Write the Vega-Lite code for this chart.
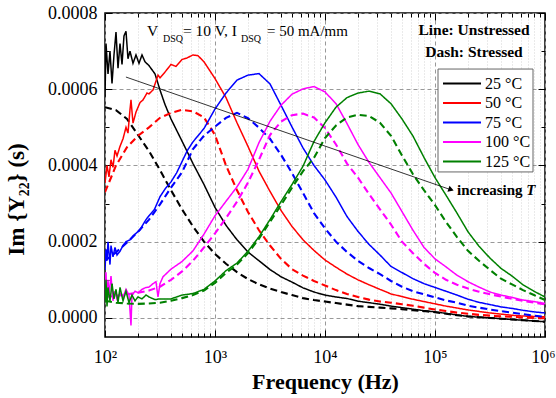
{
  "$schema": "https://vega.github.io/schema/vega-lite/v6.json",
  "width": 440,
  "height": 324,
  "autosize": {"type": "none"},
  "padding": {"left": 105, "top": 13, "right": 11, "bottom": 61},
  "background": "white",
  "config": {
    "view": {"stroke": "black", "strokeWidth": 1.5},
    "font": "Liberation Serif",
    "axis": {"labelFont": "Liberation Serif", "titleFont": "Liberation Serif", "labelColor": "black", "titleColor": "black", "tickColor": "black", "tickWidth": 1, "domain": false},
    "text": {"font": "Liberation Serif", "color": "black"}
  },
  "resolve": {"axis": {"x": "independent", "y": "independent"}},
  "layer": [
    {
      "data": {"values": [
        {"f":100,"v":0.000580,"t":"25 °C","s":"U"},{"f":102.1,"v":0.000720,"t":"25 °C","s":"U"},{"f":106.5,"v":0.000640,"t":"25 °C","s":"U"},{"f":111,"v":0.000700,"t":"25 °C","s":"U"},{"f":115.8,"v":0.000615,"t":"25 °C","s":"U"},{"f":120.7,"v":0.000690,"t":"25 °C","s":"U"},{"f":125.9,"v":0.000750,"t":"25 °C","s":"U"},{"f":131.3,"v":0.000655,"t":"25 °C","s":"U"},{"f":136.9,"v":0.000720,"t":"25 °C","s":"U"},{"f":142.8,"v":0.000665,"t":"25 °C","s":"U"},{"f":148.8,"v":0.000740,"t":"25 °C","s":"U"},{"f":155.2,"v":0.000752,"t":"25 °C","s":"U"},{"f":161.8,"v":0.000680,"t":"25 °C","s":"U"},{"f":168.7,"v":0.000700,"t":"25 °C","s":"U"},{"f":179.7,"v":0.000668,"t":"25 °C","s":"U"},{"f":191.3,"v":0.000690,"t":"25 °C","s":"U"},{"f":203.7,"v":0.000668,"t":"25 °C","s":"U"},{"f":216.9,"v":0.000690,"t":"25 °C","s":"U"},{"f":231,"v":0.000672,"t":"25 °C","s":"U"},{"f":251.2,"v":0.000662,"t":"25 °C","s":"U"},{"f":285,"v":0.000640,"t":"25 °C","s":"U"},{"f":316.2,"v":0.000598,"t":"25 °C","s":"U"},{"f":351,"v":0.000560,"t":"25 °C","s":"U"},{"f":398.1,"v":0.000522,"t":"25 °C","s":"U"},{"f":501.2,"v":0.000464,"t":"25 °C","s":"U"},{"f":631,"v":0.000405,"t":"25 °C","s":"U"},{"f":794.3,"v":0.000350,"t":"25 °C","s":"U"},{"f":1000,"v":0.000290,"t":"25 °C","s":"U"},{"f":1259,"v":0.000243,"t":"25 °C","s":"U"},{"f":1585,"v":0.000205,"t":"25 °C","s":"U"},{"f":1995,"v":0.000173,"t":"25 °C","s":"U"},{"f":2512,"v":0.000150,"t":"25 °C","s":"U"},{"f":3162,"v":0.000127,"t":"25 °C","s":"U"},{"f":3981,"v":0.000108,"t":"25 °C","s":"U"},{"f":5012,"v":0.000094,"t":"25 °C","s":"U"},{"f":6310,"v":0.000079,"t":"25 °C","s":"U"},{"f":7943,"v":0.000068,"t":"25 °C","s":"U"},{"f":10000,"v":0.000060,"t":"25 °C","s":"U"},{"f":12589,"v":0.000055,"t":"25 °C","s":"U"},{"f":15849,"v":0.000051,"t":"25 °C","s":"U"},{"f":19953,"v":0.000044,"t":"25 °C","s":"U"},{"f":25119,"v":0.000040,"t":"25 °C","s":"U"},{"f":31623,"v":0.000036,"t":"25 °C","s":"U"},{"f":39811,"v":0.000031,"t":"25 °C","s":"U"},{"f":50119,"v":0.000027,"t":"25 °C","s":"U"},{"f":63096,"v":0.000023,"t":"25 °C","s":"U"},{"f":79433,"v":0.000019,"t":"25 °C","s":"U"},{"f":100000,"v":0.000016,"t":"25 °C","s":"U"},{"f":125893,"v":0.000012,"t":"25 °C","s":"U"},{"f":158489,"v":0.000008,"t":"25 °C","s":"U"},{"f":199526,"v":0.000004,"t":"25 °C","s":"U"},{"f":251189,"v":0.000002,"t":"25 °C","s":"U"},{"f":316228,"v":0.0,"t":"25 °C","s":"U"},{"f":398107,"v":-0.000002,"t":"25 °C","s":"U"},{"f":501187,"v":-0.000004,"t":"25 °C","s":"U"},{"f":630957,"v":-0.000006,"t":"25 °C","s":"U"},{"f":794328,"v":-0.000008,"t":"25 °C","s":"U"},{"f":1000000,"v":-0.000010,"t":"25 °C","s":"U"},

        {"f":100,"v":0.000553,"t":"25 °C","s":"S"},{"f":125.9,"v":0.000545,"t":"25 °C","s":"S"},{"f":158.5,"v":0.000522,"t":"25 °C","s":"S"},{"f":199.5,"v":0.000480,"t":"25 °C","s":"S"},{"f":251.2,"v":0.000438,"t":"25 °C","s":"S"},{"f":316.2,"v":0.000388,"t":"25 °C","s":"S"},{"f":398.1,"v":0.000335,"t":"25 °C","s":"S"},{"f":501.2,"v":0.000285,"t":"25 °C","s":"S"},{"f":631,"v":0.000240,"t":"25 °C","s":"S"},{"f":794.3,"v":0.000200,"t":"25 °C","s":"S"},{"f":1000,"v":0.000168,"t":"25 °C","s":"S"},{"f":1259,"v":0.000142,"t":"25 °C","s":"S"},{"f":1585,"v":0.000120,"t":"25 °C","s":"S"},{"f":1995,"v":0.000102,"t":"25 °C","s":"S"},{"f":2512,"v":0.000088,"t":"25 °C","s":"S"},{"f":3162,"v":0.000077,"t":"25 °C","s":"S"},{"f":3981,"v":0.000068,"t":"25 °C","s":"S"},{"f":5012,"v":0.000060,"t":"25 °C","s":"S"},{"f":6310,"v":0.000052,"t":"25 °C","s":"S"},{"f":7943,"v":0.000047,"t":"25 °C","s":"S"},{"f":10000,"v":0.000043,"t":"25 °C","s":"S"},{"f":12589,"v":0.000039,"t":"25 °C","s":"S"},{"f":15849,"v":0.000035,"t":"25 °C","s":"S"},{"f":19953,"v":0.000031,"t":"25 °C","s":"S"},{"f":25119,"v":0.000029,"t":"25 °C","s":"S"},{"f":31623,"v":0.000027,"t":"25 °C","s":"S"},{"f":39811,"v":0.000025,"t":"25 °C","s":"S"},{"f":50119,"v":0.000023,"t":"25 °C","s":"S"},{"f":63096,"v":0.000020,"t":"25 °C","s":"S"},{"f":79433,"v":0.000018,"t":"25 °C","s":"S"},{"f":100000,"v":0.000015,"t":"25 °C","s":"S"},{"f":125893,"v":0.000011,"t":"25 °C","s":"S"},{"f":158489,"v":0.000007,"t":"25 °C","s":"S"},{"f":199526,"v":0.000004,"t":"25 °C","s":"S"},{"f":251189,"v":0.000002,"t":"25 °C","s":"S"},{"f":316228,"v":0.0,"t":"25 °C","s":"S"},{"f":398107,"v":-0.000002,"t":"25 °C","s":"S"},{"f":501187,"v":-0.000004,"t":"25 °C","s":"S"},{"f":630957,"v":-0.000006,"t":"25 °C","s":"S"},{"f":794328,"v":-0.000008,"t":"25 °C","s":"S"},{"f":1000000,"v":-0.000010,"t":"25 °C","s":"S"},

        {"f":100,"v":0.000354,"t":"50 °C","s":"U"},{"f":104.3,"v":0.000400,"t":"50 °C","s":"U"},{"f":108.7,"v":0.000370,"t":"50 °C","s":"U"},{"f":113.4,"v":0.000415,"t":"50 °C","s":"U"},{"f":118.2,"v":0.000395,"t":"50 °C","s":"U"},{"f":123.3,"v":0.000440,"t":"50 °C","s":"U"},{"f":128.6,"v":0.000425,"t":"50 °C","s":"U"},{"f":136.9,"v":0.000450,"t":"50 °C","s":"U"},{"f":145.8,"v":0.000470,"t":"50 °C","s":"U"},{"f":155.2,"v":0.000500,"t":"50 °C","s":"U"},{"f":161.8,"v":0.000485,"t":"50 °C","s":"U"},{"f":168.7,"v":0.000546,"t":"50 °C","s":"U"},{"f":172.3,"v":0.000572,"t":"50 °C","s":"U"},{"f":179.7,"v":0.000511,"t":"50 °C","s":"U"},{"f":191.3,"v":0.000540,"t":"50 °C","s":"U"},{"f":208.1,"v":0.000565,"t":"50 °C","s":"U"},{"f":221.6,"v":0.000572,"t":"50 °C","s":"U"},{"f":240.9,"v":0.000590,"t":"50 °C","s":"U"},{"f":251.2,"v":0.000588,"t":"50 °C","s":"U"},{"f":273.2,"v":0.000598,"t":"50 °C","s":"U"},{"f":303.2,"v":0.000637,"t":"50 °C","s":"U"},{"f":316.2,"v":0.000630,"t":"50 °C","s":"U"},{"f":351,"v":0.000645,"t":"50 °C","s":"U"},{"f":398.1,"v":0.000665,"t":"50 °C","s":"U"},{"f":442,"v":0.000660,"t":"50 °C","s":"U"},{"f":501.2,"v":0.000678,"t":"50 °C","s":"U"},{"f":556,"v":0.000682,"t":"50 °C","s":"U"},{"f":631,"v":0.000690,"t":"50 °C","s":"U"},{"f":700,"v":0.000688,"t":"50 °C","s":"U"},{"f":794.3,"v":0.000672,"t":"50 °C","s":"U"},{"f":1000,"v":0.000628,"t":"50 °C","s":"U"},{"f":1259,"v":0.000578,"t":"50 °C","s":"U"},{"f":1585,"v":0.000512,"t":"50 °C","s":"U"},{"f":1995,"v":0.000450,"t":"50 °C","s":"U"},{"f":2512,"v":0.000385,"t":"50 °C","s":"U"},{"f":3162,"v":0.000332,"t":"50 °C","s":"U"},{"f":3981,"v":0.000282,"t":"50 °C","s":"U"},{"f":5012,"v":0.000240,"t":"50 °C","s":"U"},{"f":6310,"v":0.000205,"t":"50 °C","s":"U"},{"f":7943,"v":0.000177,"t":"50 °C","s":"U"},{"f":10000,"v":0.000152,"t":"50 °C","s":"U"},{"f":12589,"v":0.000133,"t":"50 °C","s":"U"},{"f":15849,"v":0.000115,"t":"50 °C","s":"U"},{"f":19953,"v":0.000100,"t":"50 °C","s":"U"},{"f":25119,"v":0.000087,"t":"50 °C","s":"U"},{"f":31623,"v":0.000075,"t":"50 °C","s":"U"},{"f":39811,"v":0.000063,"t":"50 °C","s":"U"},{"f":50119,"v":0.000056,"t":"50 °C","s":"U"},{"f":63096,"v":0.000049,"t":"50 °C","s":"U"},{"f":79433,"v":0.000043,"t":"50 °C","s":"U"},{"f":100000,"v":0.000037,"t":"50 °C","s":"U"},{"f":125893,"v":0.000031,"t":"50 °C","s":"U"},{"f":158489,"v":0.000026,"t":"50 °C","s":"U"},{"f":199526,"v":0.000021,"t":"50 °C","s":"U"},{"f":251189,"v":0.000017,"t":"50 °C","s":"U"},{"f":316228,"v":0.000013,"t":"50 °C","s":"U"},{"f":398107,"v":0.000010,"t":"50 °C","s":"U"},{"f":501187,"v":0.000007,"t":"50 °C","s":"U"},{"f":630957,"v":0.000005,"t":"50 °C","s":"U"},{"f":794328,"v":0.000004,"t":"50 °C","s":"U"},{"f":1000000,"v":0.000003,"t":"50 °C","s":"U"},

        {"f":100,"v":0.000330,"t":"50 °C","s":"S"},{"f":125.9,"v":0.000400,"t":"50 °C","s":"S"},{"f":158.5,"v":0.000448,"t":"50 °C","s":"S"},{"f":199.5,"v":0.000478,"t":"50 °C","s":"S"},{"f":251.2,"v":0.000500,"t":"50 °C","s":"S"},{"f":316.2,"v":0.000525,"t":"50 °C","s":"S"},{"f":398.1,"v":0.000538,"t":"50 °C","s":"S"},{"f":501.2,"v":0.000546,"t":"50 °C","s":"S"},{"f":631,"v":0.000542,"t":"50 °C","s":"S"},{"f":794.3,"v":0.000526,"t":"50 °C","s":"S"},{"f":1000,"v":0.000480,"t":"50 °C","s":"S"},{"f":1259,"v":0.000400,"t":"50 °C","s":"S"},{"f":1585,"v":0.000335,"t":"50 °C","s":"S"},{"f":1995,"v":0.000278,"t":"50 °C","s":"S"},{"f":2512,"v":0.000230,"t":"50 °C","s":"S"},{"f":3162,"v":0.000190,"t":"50 °C","s":"S"},{"f":3981,"v":0.000155,"t":"50 °C","s":"S"},{"f":5012,"v":0.000128,"t":"50 °C","s":"S"},{"f":6310,"v":0.000111,"t":"50 °C","s":"S"},{"f":7943,"v":0.000097,"t":"50 °C","s":"S"},{"f":10000,"v":0.000085,"t":"50 °C","s":"S"},{"f":12589,"v":0.000073,"t":"50 °C","s":"S"},{"f":15849,"v":0.000063,"t":"50 °C","s":"S"},{"f":19953,"v":0.000055,"t":"50 °C","s":"S"},{"f":25119,"v":0.000048,"t":"50 °C","s":"S"},{"f":31623,"v":0.000043,"t":"50 °C","s":"S"},{"f":39811,"v":0.000040,"t":"50 °C","s":"S"},{"f":50119,"v":0.000036,"t":"50 °C","s":"S"},{"f":63096,"v":0.000032,"t":"50 °C","s":"S"},{"f":79433,"v":0.000027,"t":"50 °C","s":"S"},{"f":100000,"v":0.000022,"t":"50 °C","s":"S"},{"f":125893,"v":0.000018,"t":"50 °C","s":"S"},{"f":158489,"v":0.000014,"t":"50 °C","s":"S"},{"f":199526,"v":0.000011,"t":"50 °C","s":"S"},{"f":251189,"v":0.000008,"t":"50 °C","s":"S"},{"f":316228,"v":0.000006,"t":"50 °C","s":"S"},{"f":398107,"v":0.000004,"t":"50 °C","s":"S"},{"f":501187,"v":0.000003,"t":"50 °C","s":"S"},{"f":630957,"v":0.000001,"t":"50 °C","s":"S"},{"f":794328,"v":0.0,"t":"50 °C","s":"S"},{"f":1000000,"v":-0.000001,"t":"50 °C","s":"S"},

        {"f":100,"v":0.000126,"t":"75 °C","s":"U"},{"f":102.1,"v":0.000180,"t":"75 °C","s":"U"},{"f":104.3,"v":0.000150,"t":"75 °C","s":"U"},{"f":106.5,"v":0.000200,"t":"75 °C","s":"U"},{"f":111,"v":0.000140,"t":"75 °C","s":"U"},{"f":113.4,"v":0.000190,"t":"75 °C","s":"U"},{"f":118.2,"v":0.000160,"t":"75 °C","s":"U"},{"f":123.3,"v":0.000185,"t":"75 °C","s":"U"},{"f":128.6,"v":0.000165,"t":"75 °C","s":"U"},{"f":136.9,"v":0.000175,"t":"75 °C","s":"U"},{"f":145.8,"v":0.000190,"t":"75 °C","s":"U"},{"f":155.2,"v":0.000200,"t":"75 °C","s":"U"},{"f":168.7,"v":0.000205,"t":"75 °C","s":"U"},{"f":179.7,"v":0.000215,"t":"75 °C","s":"U"},{"f":191.3,"v":0.000222,"t":"75 °C","s":"U"},{"f":208.1,"v":0.000231,"t":"75 °C","s":"U"},{"f":221.6,"v":0.000245,"t":"75 °C","s":"U"},{"f":236,"v":0.000258,"t":"75 °C","s":"U"},{"f":251.2,"v":0.000268,"t":"75 °C","s":"U"},{"f":281.8,"v":0.000285,"t":"75 °C","s":"U"},{"f":316.2,"v":0.000318,"t":"75 °C","s":"U"},{"f":354.8,"v":0.000340,"t":"75 °C","s":"U"},{"f":398.1,"v":0.000357,"t":"75 °C","s":"U"},{"f":446.7,"v":0.000380,"t":"75 °C","s":"U"},{"f":501.2,"v":0.000410,"t":"75 °C","s":"U"},{"f":562.3,"v":0.000440,"t":"75 °C","s":"U"},{"f":631,"v":0.000462,"t":"75 °C","s":"U"},{"f":794.3,"v":0.000497,"t":"75 °C","s":"U"},{"f":1000,"v":0.000548,"t":"75 °C","s":"U"},{"f":1259,"v":0.000590,"t":"75 °C","s":"U"},{"f":1585,"v":0.000624,"t":"75 °C","s":"U"},{"f":1995,"v":0.000637,"t":"75 °C","s":"U"},{"f":2512,"v":0.000641,"t":"75 °C","s":"U"},{"f":3162,"v":0.000614,"t":"75 °C","s":"U"},{"f":3981,"v":0.000558,"t":"75 °C","s":"U"},{"f":5012,"v":0.000501,"t":"75 °C","s":"U"},{"f":6310,"v":0.000446,"t":"75 °C","s":"U"},{"f":7943,"v":0.000400,"t":"75 °C","s":"U"},{"f":10000,"v":0.000362,"t":"75 °C","s":"U"},{"f":12589,"v":0.000317,"t":"75 °C","s":"U"},{"f":15849,"v":0.000266,"t":"75 °C","s":"U"},{"f":19953,"v":0.000227,"t":"75 °C","s":"U"},{"f":25119,"v":0.000193,"t":"75 °C","s":"U"},{"f":31623,"v":0.000165,"t":"75 °C","s":"U"},{"f":39811,"v":0.000135,"t":"75 °C","s":"U"},{"f":50119,"v":0.000119,"t":"75 °C","s":"U"},{"f":63096,"v":0.000103,"t":"75 °C","s":"U"},{"f":79433,"v":0.000090,"t":"75 °C","s":"U"},{"f":100000,"v":0.000080,"t":"75 °C","s":"U"},{"f":125893,"v":0.000070,"t":"75 °C","s":"U"},{"f":158489,"v":0.000060,"t":"75 °C","s":"U"},{"f":199526,"v":0.000049,"t":"75 °C","s":"U"},{"f":251189,"v":0.000041,"t":"75 °C","s":"U"},{"f":316228,"v":0.000035,"t":"75 °C","s":"U"},{"f":398107,"v":0.000029,"t":"75 °C","s":"U"},{"f":501187,"v":0.000025,"t":"75 °C","s":"U"},{"f":630957,"v":0.000020,"t":"75 °C","s":"U"},{"f":794328,"v":0.000016,"t":"75 °C","s":"U"},{"f":1000000,"v":0.000013,"t":"75 °C","s":"U"},

        {"f":100,"v":0.000150,"t":"75 °C","s":"S"},{"f":125.9,"v":0.000172,"t":"75 °C","s":"S"},{"f":158.5,"v":0.000198,"t":"75 °C","s":"S"},{"f":199.5,"v":0.000226,"t":"75 °C","s":"S"},{"f":251.2,"v":0.000258,"t":"75 °C","s":"S"},{"f":316.2,"v":0.000298,"t":"75 °C","s":"S"},{"f":398.1,"v":0.000342,"t":"75 °C","s":"S"},{"f":501.2,"v":0.000382,"t":"75 °C","s":"S"},{"f":631,"v":0.000443,"t":"75 °C","s":"S"},{"f":794.3,"v":0.000478,"t":"75 °C","s":"S"},{"f":1000,"v":0.000502,"t":"75 °C","s":"S"},{"f":1259,"v":0.000525,"t":"75 °C","s":"S"},{"f":1585,"v":0.000538,"t":"75 °C","s":"S"},{"f":1995,"v":0.000524,"t":"75 °C","s":"S"},{"f":2512,"v":0.000499,"t":"75 °C","s":"S"},{"f":3162,"v":0.000470,"t":"75 °C","s":"S"},{"f":3981,"v":0.000428,"t":"75 °C","s":"S"},{"f":5012,"v":0.000380,"t":"75 °C","s":"S"},{"f":6310,"v":0.000328,"t":"75 °C","s":"S"},{"f":7943,"v":0.000275,"t":"75 °C","s":"S"},{"f":10000,"v":0.000235,"t":"75 °C","s":"S"},{"f":12589,"v":0.000200,"t":"75 °C","s":"S"},{"f":15849,"v":0.000173,"t":"75 °C","s":"S"},{"f":19953,"v":0.000150,"t":"75 °C","s":"S"},{"f":25119,"v":0.000131,"t":"75 °C","s":"S"},{"f":31623,"v":0.000115,"t":"75 °C","s":"S"},{"f":39811,"v":0.000097,"t":"75 °C","s":"S"},{"f":50119,"v":0.000082,"t":"75 °C","s":"S"},{"f":63096,"v":0.000070,"t":"75 °C","s":"S"},{"f":79433,"v":0.000062,"t":"75 °C","s":"S"},{"f":100000,"v":0.000054,"t":"75 °C","s":"S"},{"f":125893,"v":0.000046,"t":"75 °C","s":"S"},{"f":158489,"v":0.000040,"t":"75 °C","s":"S"},{"f":199526,"v":0.000032,"t":"75 °C","s":"S"},{"f":251189,"v":0.000027,"t":"75 °C","s":"S"},{"f":316228,"v":0.000022,"t":"75 °C","s":"S"},{"f":398107,"v":0.000018,"t":"75 °C","s":"S"},{"f":501187,"v":0.000014,"t":"75 °C","s":"S"},{"f":630957,"v":0.000010,"t":"75 °C","s":"S"},{"f":794328,"v":0.000006,"t":"75 °C","s":"S"},{"f":1000000,"v":0.000003,"t":"75 °C","s":"S"},

        {"f":100,"v":0.000080,"t":"100 °C","s":"U"},{"f":102.1,"v":0.000120,"t":"100 °C","s":"U"},{"f":104.3,"v":0.000040,"t":"100 °C","s":"U"},{"f":106.5,"v":0.000100,"t":"100 °C","s":"U"},{"f":108.7,"v":0.000060,"t":"100 °C","s":"U"},{"f":113.4,"v":0.000110,"t":"100 °C","s":"U"},{"f":118.2,"v":0.000045,"t":"100 °C","s":"U"},{"f":123.3,"v":0.000070,"t":"100 °C","s":"U"},{"f":128.6,"v":0.000050,"t":"100 °C","s":"U"},{"f":136.9,"v":0.000065,"t":"100 °C","s":"U"},{"f":145.8,"v":0.000055,"t":"100 °C","s":"U"},{"f":155.2,"v":0.000075,"t":"100 °C","s":"U"},{"f":165.2,"v":0.000060,"t":"100 °C","s":"U"},{"f":172.3,"v":-0.000020,"t":"100 °C","s":"U"},{"f":175.9,"v":0.000060,"t":"100 °C","s":"U"},{"f":187.4,"v":0.000070,"t":"100 °C","s":"U"},{"f":199.5,"v":0.000066,"t":"100 °C","s":"U"},{"f":216.9,"v":0.000075,"t":"100 °C","s":"U"},{"f":236,"v":0.000080,"t":"100 °C","s":"U"},{"f":251.2,"v":0.000081,"t":"100 °C","s":"U"},{"f":273.2,"v":0.000090,"t":"100 °C","s":"U"},{"f":290.7,"v":0.000095,"t":"100 °C","s":"U"},{"f":303.2,"v":0.000055,"t":"100 °C","s":"U"},{"f":316.2,"v":0.000090,"t":"100 °C","s":"U"},{"f":336.8,"v":0.000108,"t":"100 °C","s":"U"},{"f":398.1,"v":0.000128,"t":"100 °C","s":"U"},{"f":501.2,"v":0.000148,"t":"100 °C","s":"U"},{"f":631,"v":0.000176,"t":"100 °C","s":"U"},{"f":794.3,"v":0.000220,"t":"100 °C","s":"U"},{"f":1000,"v":0.000268,"t":"100 °C","s":"U"},{"f":1259,"v":0.000306,"t":"100 °C","s":"U"},{"f":1585,"v":0.000344,"t":"100 °C","s":"U"},{"f":1995,"v":0.000390,"t":"100 °C","s":"U"},{"f":2512,"v":0.000460,"t":"100 °C","s":"U"},{"f":3162,"v":0.000516,"t":"100 °C","s":"U"},{"f":3981,"v":0.000558,"t":"100 °C","s":"U"},{"f":5012,"v":0.000587,"t":"100 °C","s":"U"},{"f":6310,"v":0.000601,"t":"100 °C","s":"U"},{"f":7943,"v":0.000607,"t":"100 °C","s":"U"},{"f":10000,"v":0.000593,"t":"100 °C","s":"U"},{"f":12589,"v":0.000562,"t":"100 °C","s":"U"},{"f":15849,"v":0.000510,"t":"100 °C","s":"U"},{"f":19953,"v":0.000455,"t":"100 °C","s":"U"},{"f":25119,"v":0.000408,"t":"100 °C","s":"U"},{"f":31623,"v":0.000368,"t":"100 °C","s":"U"},{"f":39811,"v":0.000328,"t":"100 °C","s":"U"},{"f":50119,"v":0.000279,"t":"100 °C","s":"U"},{"f":63096,"v":0.000230,"t":"100 °C","s":"U"},{"f":79433,"v":0.000185,"t":"100 °C","s":"U"},{"f":100000,"v":0.000155,"t":"100 °C","s":"U"},{"f":125893,"v":0.000134,"t":"100 °C","s":"U"},{"f":158489,"v":0.000112,"t":"100 °C","s":"U"},{"f":199526,"v":0.000095,"t":"100 °C","s":"U"},{"f":251189,"v":0.000081,"t":"100 °C","s":"U"},{"f":316228,"v":0.000068,"t":"100 °C","s":"U"},{"f":398107,"v":0.000060,"t":"100 °C","s":"U"},{"f":501187,"v":0.000054,"t":"100 °C","s":"U"},{"f":630957,"v":0.000047,"t":"100 °C","s":"U"},{"f":794328,"v":0.000043,"t":"100 °C","s":"U"},{"f":1000000,"v":0.000038,"t":"100 °C","s":"U"},

        {"f":100,"v":0.000055,"t":"100 °C","s":"S"},{"f":125.9,"v":0.000058,"t":"100 °C","s":"S"},{"f":158.5,"v":0.000062,"t":"100 °C","s":"S"},{"f":199.5,"v":0.000066,"t":"100 °C","s":"S"},{"f":251.2,"v":0.000072,"t":"100 °C","s":"S"},{"f":316.2,"v":0.000082,"t":"100 °C","s":"S"},{"f":398.1,"v":0.000100,"t":"100 °C","s":"S"},{"f":501.2,"v":0.000122,"t":"100 °C","s":"S"},{"f":631,"v":0.000150,"t":"100 °C","s":"S"},{"f":794.3,"v":0.000185,"t":"100 °C","s":"S"},{"f":1000,"v":0.000222,"t":"100 °C","s":"S"},{"f":1259,"v":0.000262,"t":"100 °C","s":"S"},{"f":1585,"v":0.000305,"t":"100 °C","s":"S"},{"f":1995,"v":0.000355,"t":"100 °C","s":"S"},{"f":2512,"v":0.000415,"t":"100 °C","s":"S"},{"f":3162,"v":0.000480,"t":"100 °C","s":"S"},{"f":3981,"v":0.000515,"t":"100 °C","s":"S"},{"f":5012,"v":0.000532,"t":"100 °C","s":"S"},{"f":6310,"v":0.000536,"t":"100 °C","s":"S"},{"f":7943,"v":0.000526,"t":"100 °C","s":"S"},{"f":10000,"v":0.000498,"t":"100 °C","s":"S"},{"f":12589,"v":0.000455,"t":"100 °C","s":"S"},{"f":15849,"v":0.000405,"t":"100 °C","s":"S"},{"f":19953,"v":0.000368,"t":"100 °C","s":"S"},{"f":25119,"v":0.000325,"t":"100 °C","s":"S"},{"f":31623,"v":0.000285,"t":"100 °C","s":"S"},{"f":39811,"v":0.000245,"t":"100 °C","s":"S"},{"f":50119,"v":0.000200,"t":"100 °C","s":"S"},{"f":63096,"v":0.000170,"t":"100 °C","s":"S"},{"f":79433,"v":0.000142,"t":"100 °C","s":"S"},{"f":100000,"v":0.000118,"t":"100 °C","s":"S"},{"f":125893,"v":0.000100,"t":"100 °C","s":"S"},{"f":158489,"v":0.000087,"t":"100 °C","s":"S"},{"f":199526,"v":0.000077,"t":"100 °C","s":"S"},{"f":251189,"v":0.000069,"t":"100 °C","s":"S"},{"f":316228,"v":0.000062,"t":"100 °C","s":"S"},{"f":398107,"v":0.000056,"t":"100 °C","s":"S"},{"f":501187,"v":0.000050,"t":"100 °C","s":"S"},{"f":630957,"v":0.000045,"t":"100 °C","s":"S"},{"f":794328,"v":0.000040,"t":"100 °C","s":"S"},{"f":1000000,"v":0.000036,"t":"100 °C","s":"S"},

        {"f":100,"v":0.000040,"t":"125 °C","s":"U"},{"f":102.1,"v":0.000100,"t":"125 °C","s":"U"},{"f":104.3,"v":0.000030,"t":"125 °C","s":"U"},{"f":106.5,"v":0.000080,"t":"125 °C","s":"U"},{"f":111,"v":0.000045,"t":"125 °C","s":"U"},{"f":115.8,"v":0.000090,"t":"125 °C","s":"U"},{"f":120.7,"v":0.000050,"t":"125 °C","s":"U"},{"f":125.9,"v":0.000075,"t":"125 °C","s":"U"},{"f":131.3,"v":0.000040,"t":"125 °C","s":"U"},{"f":136.9,"v":0.000080,"t":"125 °C","s":"U"},{"f":145.8,"v":0.000045,"t":"125 °C","s":"U"},{"f":155.2,"v":0.000070,"t":"125 °C","s":"U"},{"f":165.2,"v":0.000040,"t":"125 °C","s":"U"},{"f":175.9,"v":0.000060,"t":"125 °C","s":"U"},{"f":187.4,"v":0.000045,"t":"125 °C","s":"U"},{"f":199.5,"v":0.000055,"t":"125 °C","s":"U"},{"f":216.9,"v":0.000050,"t":"125 °C","s":"U"},{"f":236,"v":0.000060,"t":"125 °C","s":"U"},{"f":251.2,"v":0.000055,"t":"125 °C","s":"U"},{"f":285.1,"v":0.000048,"t":"125 °C","s":"U"},{"f":316.2,"v":0.000050,"t":"125 °C","s":"U"},{"f":398.1,"v":0.000050,"t":"125 °C","s":"U"},{"f":501.2,"v":0.000060,"t":"125 °C","s":"U"},{"f":631,"v":0.000064,"t":"125 °C","s":"U"},{"f":794.3,"v":0.000075,"t":"125 °C","s":"U"},{"f":1000,"v":0.000097,"t":"125 °C","s":"U"},{"f":1259,"v":0.000124,"t":"125 °C","s":"U"},{"f":1585,"v":0.000144,"t":"125 °C","s":"U"},{"f":1995,"v":0.000175,"t":"125 °C","s":"U"},{"f":2512,"v":0.000213,"t":"125 °C","s":"U"},{"f":3162,"v":0.000258,"t":"125 °C","s":"U"},{"f":3981,"v":0.000305,"t":"125 °C","s":"U"},{"f":5012,"v":0.000350,"t":"125 °C","s":"U"},{"f":6310,"v":0.000398,"t":"125 °C","s":"U"},{"f":7943,"v":0.000463,"t":"125 °C","s":"U"},{"f":10000,"v":0.000512,"t":"125 °C","s":"U"},{"f":12589,"v":0.000553,"t":"125 °C","s":"U"},{"f":15849,"v":0.000578,"t":"125 °C","s":"U"},{"f":19953,"v":0.000590,"t":"125 °C","s":"U"},{"f":25119,"v":0.000595,"t":"125 °C","s":"U"},{"f":31623,"v":0.000588,"t":"125 °C","s":"U"},{"f":39811,"v":0.000562,"t":"125 °C","s":"U"},{"f":50119,"v":0.000522,"t":"125 °C","s":"U"},{"f":63096,"v":0.000477,"t":"125 °C","s":"U"},{"f":79433,"v":0.000421,"t":"125 °C","s":"U"},{"f":100000,"v":0.000368,"t":"125 °C","s":"U"},{"f":125893,"v":0.000322,"t":"125 °C","s":"U"},{"f":158489,"v":0.000275,"t":"125 °C","s":"U"},{"f":199526,"v":0.000226,"t":"125 °C","s":"U"},{"f":251189,"v":0.000188,"t":"125 °C","s":"U"},{"f":316228,"v":0.000157,"t":"125 °C","s":"U"},{"f":398107,"v":0.000130,"t":"125 °C","s":"U"},{"f":501187,"v":0.000110,"t":"125 °C","s":"U"},{"f":630957,"v":0.000087,"t":"125 °C","s":"U"},{"f":794328,"v":0.000070,"t":"125 °C","s":"U"},{"f":1000000,"v":0.000055,"t":"125 °C","s":"U"},

        {"f":100,"v":0.000045,"t":"125 °C","s":"S"},{"f":125.9,"v":0.000040,"t":"125 °C","s":"S"},{"f":158.5,"v":0.000038,"t":"125 °C","s":"S"},{"f":199.5,"v":0.000037,"t":"125 °C","s":"S"},{"f":251.2,"v":0.000038,"t":"125 °C","s":"S"},{"f":316.2,"v":0.000040,"t":"125 °C","s":"S"},{"f":398.1,"v":0.000045,"t":"125 °C","s":"S"},{"f":501.2,"v":0.000052,"t":"125 °C","s":"S"},{"f":631,"v":0.000060,"t":"125 °C","s":"S"},{"f":794.3,"v":0.000072,"t":"125 °C","s":"S"},{"f":1000,"v":0.000092,"t":"125 °C","s":"S"},{"f":1259,"v":0.000118,"t":"125 °C","s":"S"},{"f":1585,"v":0.000140,"t":"125 °C","s":"S"},{"f":1995,"v":0.000170,"t":"125 °C","s":"S"},{"f":2512,"v":0.000208,"t":"125 °C","s":"S"},{"f":3162,"v":0.000252,"t":"125 °C","s":"S"},{"f":3981,"v":0.000296,"t":"125 °C","s":"S"},{"f":5012,"v":0.000342,"t":"125 °C","s":"S"},{"f":6310,"v":0.000385,"t":"125 °C","s":"S"},{"f":7943,"v":0.000420,"t":"125 °C","s":"S"},{"f":10000,"v":0.000472,"t":"125 °C","s":"S"},{"f":12589,"v":0.000505,"t":"125 °C","s":"S"},{"f":15849,"v":0.000526,"t":"125 °C","s":"S"},{"f":19953,"v":0.000533,"t":"125 °C","s":"S"},{"f":25119,"v":0.000530,"t":"125 °C","s":"S"},{"f":31623,"v":0.000512,"t":"125 °C","s":"S"},{"f":39811,"v":0.000478,"t":"125 °C","s":"S"},{"f":50119,"v":0.000426,"t":"125 °C","s":"S"},{"f":63096,"v":0.000377,"t":"125 °C","s":"S"},{"f":79433,"v":0.000335,"t":"125 °C","s":"S"},{"f":100000,"v":0.000296,"t":"125 °C","s":"S"},{"f":125893,"v":0.000252,"t":"125 °C","s":"S"},{"f":158489,"v":0.000212,"t":"125 °C","s":"S"},{"f":199526,"v":0.000176,"t":"125 °C","s":"S"},{"f":251189,"v":0.000150,"t":"125 °C","s":"S"},{"f":316228,"v":0.000126,"t":"125 °C","s":"S"},{"f":398107,"v":0.000103,"t":"125 °C","s":"S"},{"f":501187,"v":0.000088,"t":"125 °C","s":"S"},{"f":630957,"v":0.000073,"t":"125 °C","s":"S"},{"f":794328,"v":0.000060,"t":"125 °C","s":"S"},{"f":1000000,"v":0.000047,"t":"125 °C","s":"S"}
      ]},
      "mark": {"type": "line", "clip": true},
      "encoding": {
        "x": {
          "field": "f", "type": "quantitative",
          "scale": {"type": "log", "domain": [100, 1000000], "nice": false},
          "axis": {
            "orient": "bottom",
            "values": [100,200,300,400,500,600,700,800,900,1000,2000,3000,4000,5000,6000,7000,8000,9000,10000,20000,30000,40000,50000,60000,70000,80000,90000,100000,200000,300000,400000,500000,600000,700000,800000,900000,1000000],
            "title": "Frequency (Hz)",
            "titleFontSize": 22, "titleFontWeight": "bold", "titlePadding": 2,
            "labelExpr": "datum.value == 100 ? '10²' : datum.value == 1000 ? '10³' : datum.value == 10000 ? '10⁴' : datum.value == 100000 ? '10⁵' : datum.value == 1000000 ? '10⁶' : ''",
            "labelFontSize": 18, "labelPadding": 18, "labelFlush": false, "labelOverlap": false,
            "labelOffset": {"condition": {"test": "datum.value == 1000000", "value": -2}, "value": 0},
            "tickSize": {"condition": {"test": "indexof([100,1000,10000,100000,1000000], datum.value) >= 0", "value": -7}, "value": -4},
            "grid": true,
            "gridColor": {"condition": {"test": "indexof([100,1000,10000,100000,1000000], datum.value) >= 0", "value": "#999999"}, "value": "#d4d4d4"},
            "gridDash": {"condition": {"test": "indexof([100,1000,10000,100000,1000000], datum.value) >= 0", "value": [4, 3]}, "value": [1, 2]},
            "gridWidth": 1
          }
        },
        "y": {
          "field": "v", "type": "quantitative",
          "scale": {"domain": [-0.00005, 0.0008], "nice": false, "zero": false},
          "axis": {
            "orient": "left",
            "values": [0, 0.0001, 0.0002, 0.0003, 0.0004, 0.0005, 0.0006, 0.0007, 0.0008],
            "title": "Im {Y₂₂} (s)",
            "titleFontSize": 23, "titleFontWeight": "bold", "titlePadding": 19, "titleY": 186,
            "labelExpr": "round(datum.value * 10000) % 2 == 0 ? format(datum.value, '.4f') : ''",
            "labelFontSize": 18, "labelPadding": 15,
            "tickSize": {"condition": {"test": "round(datum.value * 10000) % 2 == 0", "value": -7}, "value": -4},
            "grid": true,
            "gridColor": "#999999", "gridDash": [4, 3],
            "gridOpacity": {"condition": {"test": "round(datum.value * 10000) % 2 == 0", "value": 1}, "value": 0}
          }
        },
        "color": {
          "field": "t", "type": "nominal",
          "scale": {"domain": ["25 °C", "50 °C", "75 °C", "100 °C", "125 °C"], "range": ["#000000", "#ff0000", "#0000ff", "#ff00ff", "#008000"]},
          "legend": {
            "orient": "none", "legendX": 333, "legendY": 56, "title": null,
            "symbolType": "M-1,0H3", "symbolSize": 361, "symbolStrokeWidth": 1.8,
            "labelFont": "Liberation Serif", "labelFontSize": 16, "labelColor": "black", "labelOffset": 22,
            "strokeColor": "transparent", "fillColor": "transparent", "padding": 4, "rowPadding": 0.5
          }
        },
        "strokeDash": {
          "field": "s", "type": "nominal",
          "scale": {"domain": ["U", "S"], "range": [[1, 0], [7, 4]]},
          "legend": null
        },
        "strokeWidth": {
          "field": "s", "type": "nominal",
          "scale": {"domain": ["U", "S"], "range": [1.5, 2.1]},
          "legend": null
        }
      }
    },
    {
      "data": {"values": [{}]},
      "mark": {"type": "rect", "fill": "white", "stroke": "#666666", "strokeWidth": 1},
      "encoding": {
        "x": {"datum": 106500, "type": "quantitative", "axis": null},
        "x2": {"datum": 778100},
        "y": {"datum": 0.000653, "type": "quantitative", "axis": null},
        "y2": {"datum": 0.000383}
      }
    },
    {
      "data": {"values": [{}]},
      "mark": {"type": "rule", "color": "black", "strokeWidth": 0.8},
      "encoding": {
        "x": {"datum": 155, "type": "quantitative",
          "axis": {"orient": "top", "title": null, "labels": false, "grid": false,
            "values": [100,200,300,400,500,600,700,800,900,1000,2000,3000,4000,5000,6000,7000,8000,9000,10000,20000,30000,40000,50000,60000,70000,80000,90000,100000,200000,300000,400000,500000,600000,700000,800000,900000,1000000],
            "tickSize": {"condition": {"test": "indexof([100,1000,10000,100000,1000000], datum.value) >= 0", "value": -7}, "value": -4}}},
        "y": {"datum": 0.000632, "type": "quantitative",
          "axis": {"orient": "right", "title": null, "labels": false, "grid": false,
            "values": [0, 0.0001, 0.0002, 0.0003, 0.0004, 0.0005, 0.0006, 0.0007, 0.0008],
            "tickSize": {"condition": {"test": "round(datum.value * 10000) % 2 == 0", "value": -7}, "value": -4}}},
        "x2": {"datum": 134100},
        "y2": {"datum": 0.000338}
      }
    },
    {
      "data": {"values": [{}]},
      "mark": {"type": "point", "shape": "triangle-right", "filled": true, "color": "black", "opacity": 1, "size": 40, "angle": 19},
      "encoding": {
        "x": {"datum": 140000, "type": "quantitative", "axis": null},
        "y": {"datum": 0.0003365, "type": "quantitative", "axis": null}
      }
    },
    {
      "data": {"values": [{}]},
      "mark": {"type": "text", "text": "V", "align": "left", "baseline": "alphabetic", "fontSize": 15.5},
      "encoding": {"x": {"datum": 240.9, "type": "quantitative", "axis": null}, "y": {"datum": 0.00074, "type": "quantitative", "axis": null}}
    },
    {
      "data": {"values": [{}]},
      "mark": {"type": "text", "text": "DSQ", "align": "left", "baseline": "alphabetic", "fontSize": 10},
      "encoding": {"x": {"datum": 336.8, "type": "quantitative", "axis": null}, "y": {"datum": 0.000724, "type": "quantitative", "axis": null}}
    },
    {
      "data": {"values": [{}]},
      "mark": {"type": "text", "text": "= 10 V, I", "align": "left", "baseline": "alphabetic", "fontSize": 15.5},
      "encoding": {"x": {"datum": 511.8, "type": "quantitative", "axis": null}, "y": {"datum": 0.00074, "type": "quantitative", "axis": null}}
    },
    {
      "data": {"values": [{}]},
      "mark": {"type": "text", "text": "DSQ", "align": "left", "baseline": "alphabetic", "fontSize": 10},
      "encoding": {"x": {"datum": 1723, "type": "quantitative", "axis": null}, "y": {"datum": 0.000724, "type": "quantitative", "axis": null}}
    },
    {
      "data": {"values": [{}]},
      "mark": {"type": "text", "text": "= 50 mA/mm", "align": "left", "baseline": "alphabetic", "fontSize": 15},
      "encoding": {"x": {"datum": 2969, "type": "quantitative", "axis": null}, "y": {"datum": 0.00074, "type": "quantitative", "axis": null}}
    },
    {
      "data": {"values": [{}]},
      "mark": {"type": "text", "text": "Line: Unstressed", "align": "center", "baseline": "alphabetic", "fontSize": 15.5, "fontWeight": "bold"},
      "encoding": {"x": {"datum": 226200, "type": "quantitative", "axis": null}, "y": {"datum": 0.000742, "type": "quantitative", "axis": null}}
    },
    {
      "data": {"values": [{}]},
      "mark": {"type": "text", "text": "Dash: Stressed", "align": "center", "baseline": "alphabetic", "fontSize": 15.5, "fontWeight": "bold"},
      "encoding": {"x": {"datum": 226200, "type": "quantitative", "axis": null}, "y": {"datum": 0.000685, "type": "quantitative", "axis": null}}
    },
    {
      "data": {"values": [{}]},
      "mark": {"type": "text", "text": "increasing", "align": "left", "baseline": "alphabetic", "fontSize": 15, "fontWeight": "bold"},
      "encoding": {"x": {"datum": 158490, "type": "quantitative", "axis": null}, "y": {"datum": 0.000323, "type": "quantitative", "axis": null}}
    },
    {
      "data": {"values": [{}]},
      "mark": {"type": "text", "text": "T", "align": "left", "baseline": "alphabetic", "fontSize": 15, "fontWeight": "bold", "fontStyle": "italic"},
      "encoding": {"x": {"datum": 675000, "type": "quantitative", "axis": null}, "y": {"datum": 0.000323, "type": "quantitative", "axis": null}}
    }
  ]
}
